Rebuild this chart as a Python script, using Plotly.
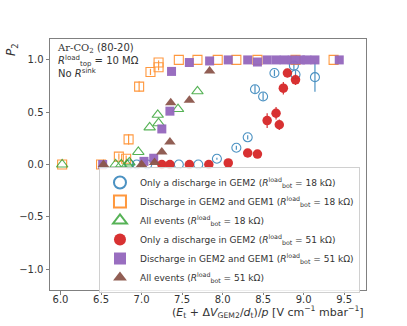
import plotly.graph_objects as go

# ---- data ----
# Only a discharge in GEM2, R_bot = 18 kOhm (open blue circles)
x_g2_18 = [6.85, 6.94, 7.07, 7.46, 7.70, 7.93, 8.17, 8.31, 8.40, 8.50, 8.64, 8.88, 8.90, 9.14]
y_g2_18 = [0.0, 0.0, 0.0, 0.0, 0.0, 0.055, 0.16, 0.26, 0.72, 0.65, 0.875, 0.945, 0.86, 0.835]
e_g2_18 = [0.0, 0.0, 0.0, 0.0, 0.0, 0.01, 0.02, 0.02, 0.04, 0.04, 0.03, 0.04, 0.04, 0.14]

# Discharge in GEM2 and GEM1, R_bot = 18 kOhm (open orange squares)
x_g21_18 = [6.02, 6.50, 6.72, 6.81, 6.84, 6.97, 7.11, 7.21, 7.21, 7.46, 7.69, 7.94, 8.17, 8.43, 8.90, 9.37]
y_g21_18 = [0.0, 0.0, 0.075, 0.055, 0.24, 0.745, 0.885, 0.93, 0.975, 1.0, 1.0, 1.0, 1.0, 1.0, 1.0, 1.0]
e_g21_18 = [0.0, 0.0, 0.03, 0.03, 0.05, 0.05, 0.03, 0.03, 0.02, 0.0, 0.0, 0.0, 0.0, 0.0, 0.0, 0.0]

# All events, R_bot = 18 kOhm (open green triangles)
x_all_18 = [6.02, 6.68, 6.75, 6.82, 6.85, 6.96, 7.10, 7.20, 7.21, 7.45, 7.69]
y_all_18 = [0.0, 0.0, 0.0, 0.0, 0.02, 0.12, 0.355, 0.475, 0.395, 0.53, 0.70]

# Only a discharge in GEM2, R_bot = 51 kOhm (filled red circles)
x_g2_51 = [7.25, 7.35, 7.59, 7.83, 8.07, 8.31, 8.43, 8.55, 8.66, 8.70, 8.75, 8.80, 8.90]
y_g2_51 = [0.0, 0.0, 0.0, 0.0, 0.015, 0.11, 0.10, 0.42, 0.49, 0.38, 0.73, 0.875, 0.81]
e_g2_51 = [0.0, 0.0, 0.0, 0.0, 0.01, 0.02, 0.02, 0.07, 0.06, 0.05, 0.06, 0.04, 0.05]

# Discharge in GEM2 and GEM1, R_bot = 51 kOhm (filled purple squares)
x_g21_51 = [6.52, 7.03, 7.15, 7.25, 7.35, 7.37, 7.59, 7.84, 8.07, 8.31, 8.43, 8.55, 8.66, 8.76, 8.86, 8.96, 9.04, 9.14, 9.44]
y_g21_51 = [0.0, 0.03, 0.06, 0.34, 0.51, 0.89, 0.975, 0.99, 1.0, 1.0, 0.98, 1.0, 1.0, 1.0, 1.0, 1.0, 1.0, 1.0, 1.0]

# All events, R_bot = 51 kOhm (filled brown triangles)
x_all_51 = [6.53, 7.00, 7.16, 7.25, 7.35, 7.36, 7.59, 7.84]
y_all_51 = [0.0, 0.0, 0.02, 0.12, 0.215, 0.59, 0.615, 0.895]

x_ticks = [6.0, 6.5, 7.0, 7.5, 8.0, 8.5, 9.0, 9.5]
x_ticktext = ["6.0", "6.5", "7.0", "7.5", "8.0", "8.5", "9.0", "9.5"]
y_ticks = [-1.0, -0.5, 0.0, 0.5, 1.0]
y_ticktext = ["\u22121.0", "\u22120.5", "0.0", "0.5", "1.0"]

BLUE = "#1f77b4"
ORANGE = "#ff7f0e"
GREEN = "#2ca02c"
RED = "#d62728"
PURPLE = "#9467bd"
BROWN = "#8c564b"

R18 = " (<i>R</i><sup>load</sup><sub>bot</sub> = 18 k\u03a9)"
R51 = " (<i>R</i><sup>load</sup><sub>bot</sub> = 51 k\u03a9)"

fig = go.Figure()

def err(vals, color):
    return dict(type="data", array=vals, visible=True, color=color, thickness=1.2, width=0)

fig.add_trace(go.Scatter(
    x=x_g2_18, y=y_g2_18, mode="markers", name="Only a discharge in GEM2" + R18,
    marker=dict(symbol="circle-open", size=9, color=BLUE, line=dict(width=1.1)),
    error_y=err(e_g2_18, BLUE), opacity=0.8))
fig.add_trace(go.Scatter(
    x=x_g21_18, y=y_g21_18, mode="markers", name="Discharge in GEM2 and GEM1" + R18,
    marker=dict(symbol="square-open", size=9, color=ORANGE, line=dict(width=1.1)),
    error_y=err(e_g21_18, ORANGE), opacity=0.8))
fig.add_trace(go.Scatter(
    x=x_all_18, y=y_all_18, mode="markers", name="All events" + R18,
    marker=dict(symbol="triangle-up-open", size=10, color=GREEN, line=dict(width=1.1)),
    opacity=0.8))
fig.add_trace(go.Scatter(
    x=x_g2_51, y=y_g2_51, mode="markers", name="Only a discharge in GEM2" + R51,
    marker=dict(symbol="circle", size=9.5, color=RED),
    error_y=err(e_g2_51, RED), opacity=0.95))
fig.add_trace(go.Scatter(
    x=x_g21_51, y=y_g21_51, mode="markers", name="Discharge in GEM2 and GEM1" + R51,
    marker=dict(symbol="square", size=9, color=PURPLE), opacity=0.95))
fig.add_trace(go.Scatter(
    x=x_all_51, y=y_all_51, mode="markers", name="All events" + R51,
    marker=dict(symbol="triangle-up", size=10, color=BROWN), opacity=0.95))

axis_common = dict(showline=True, mirror=True, linecolor="#808080", linewidth=1,
                   ticks="outside", ticklen=3.5, tickcolor="#808080", tickwidth=1,
                   showgrid=False, zeroline=False,
                   tickfont=dict(family="DejaVu Sans", size=10, color="#333"))

fig.update_layout(
    width=407, height=326,
    margin=dict(l=50, r=41, t=39, b=36),
    paper_bgcolor="white", plot_bgcolor="white",
    font=dict(family="DejaVu Sans", size=10, color="#333"),
    xaxis=dict(range=[5.87, 9.77], tickvals=x_ticks, ticktext=x_ticktext,
               ticklabelstandoff=-4, **axis_common),
    yaxis=dict(range=[-1.2, 1.2], tickvals=y_ticks, ticktext=y_ticktext, **axis_common),
    showlegend=True,
    legend=dict(x=0.155, y=0.49, xanchor="left", yanchor="top",
                bgcolor="rgba(255,255,255,0.85)", bordercolor="#d0d0d0", borderwidth=1,
                font=dict(family="DejaVu Sans", size=9, color="#333"),
                tracegroupgap=0, itemsizing="constant"),
    annotations=[
        dict(text="<i>P</i><sub>2</sub>", xref="paper", yref="paper", x=-0.12, y=0.99,
             xanchor="center", yanchor="top", textangle=-90, showarrow=False,
             font=dict(family="DejaVu Sans", size=12, color="#333")),
        dict(text="(<i>E</i><sub>t</sub> + \u0394<i>V</i><sub>GEM2</sub>/<i>d</i><sub>t</sub>)/<i>p</i> [V cm<sup>\u22121</sup> mbar<sup>\u22121</sup>]",
             xref="paper", yref="paper", x=1.0, y=-0.088, xanchor="right", yanchor="middle",
             showarrow=False, font=dict(family="DejaVu Sans", size=11, color="#333")),
        dict(text="<span style='font-family:DejaVu Serif'>Ar-CO<sub>2</sub></span> (80-20)<br>"
                  "<i>R</i><sup>load</sup><sub>top</sub> = 10 M\u03a9<br>No <i>R</i><sup>sink</sup>",
             xref="paper", yref="paper", x=0.015, y=0.995, xanchor="left", yanchor="top",
             align="left", showarrow=False, font=dict(family="DejaVu Sans", size=10, color="#333")),
    ],
)

# remove the browser's default 8px body margin so the figure fills the window
fig.write_html("out.html", config={"displayModeBar": False},
               post_script="document.body.style.margin='0';")
